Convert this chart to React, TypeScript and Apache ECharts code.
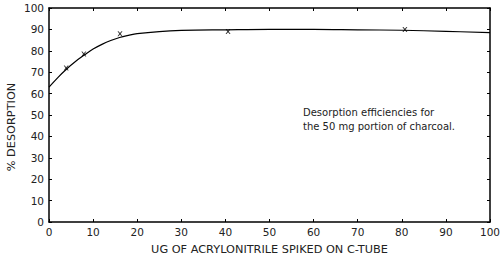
import React, { useEffect, useRef } from "react";
import * as echarts from "echarts";

const curveX = [0, 2, 4, 6, 8, 10, 12, 14, 16, 18, 20, 25, 30, 40, 50, 60, 70, 80, 90, 100];
const curveY = [63, 67.5, 71.5, 75, 78, 80.8, 83, 84.8, 86.2, 87.2, 88, 89, 89.5, 89.8, 90, 90, 89.8, 89.6, 89.1, 88.5];
const pointX = [3.9, 7.9, 16.1, 40.6, 80.7];
const pointY = [72, 78.5, 88, 89, 90];
const noteLines = ["Desorption efficiencies for", "the 50 mg portion of charcoal."];
const xName = "UG OF ACRYLONITRILE SPIKED ON C-TUBE";
const yName = "% DESORPTION";

const X_SYMBOL = "path://M0,0 L2,0 L5,3.5 L8,0 L10,0 L6.5,5 L10,10 L8,10 L5,6.5 L2,10 L0,10 L3.5,5 Z";

export default function App() {
  const ref = useRef<HTMLDivElement>(null);
  useEffect(() => {
    document.body.style.margin = "0";
    if (!ref.current) return;
    const chart = echarts.init(ref.current, null, { renderer: "svg" });
    const font = "DejaVu Sans";
    const axisLine = { show: true, onZero: false, lineStyle: { color: "#000", width: 1.5 } };
    const tick = { show: true, inside: true, length: 3, lineStyle: { color: "#000", width: 1 } };
    chart.setOption({
      animation: false,
      backgroundColor: "#fff",
      grid: { left: 49, right: 10, top: 8, bottom: 36, outerBoundsMode: "none" },
      xAxis: [
        {
          type: "value", min: 0, max: 100, interval: 10,
          axisLine, axisTick: tick, splitLine: { show: false },
          axisLabel: { color: "#222", fontFamily: font, fontSize: 10.5, margin: 4 },
          name: xName,
          nameLocation: "middle", nameGap: 22,
          nameTextStyle: { color: "#222", fontFamily: font, fontSize: 11.3 },
        },
        {
          type: "value", position: "top", min: 0, max: 100, interval: 10,
          axisLine, axisTick: tick, axisLabel: { show: false }, splitLine: { show: false },
        },
      ],
      yAxis: [
        {
          type: "value", min: 0, max: 100, interval: 10,
          axisLine, axisTick: tick, splitLine: { show: false },
          axisLabel: { color: "#222", fontFamily: font, fontSize: 10.5, margin: 5 },
        },
        {
          type: "value", position: "right", min: 0, max: 100, interval: 10,
          axisLine, axisTick: tick, axisLabel: { show: false }, splitLine: { show: false },
        },
      ],
      series: [
        {
          type: "line",
          data: curveX.map((x, i) => [x, curveY[i]]),
          smooth: 0.4,
          showSymbol: false,
          lineStyle: { color: "#000", width: 1.2 },
        },
        {
          type: "scatter",
          data: pointX.map((x, i) => [x, pointY[i]]),
          symbol: X_SYMBOL,
          symbolSize: 5,
          itemStyle: { color: "#000" },
        },
      ],
      graphic: [
        {
          type: "text",
          x: 11,
          y: 127,
          rotation: Math.PI / 2,
          style: {
            text: yName,
            fill: "#222",
            font: `11.3px "${font}"`,
            align: "center",
            verticalAlign: "middle",
          },
        },
        {
          type: "text",
          left: 303,
          top: 105,
          style: {
            text: noteLines.join("\n"),
            fill: "#222",
            font: `10px "${font}"`,
            lineHeight: 14,
          },
        },
      ],
    });
    return () => chart.dispose();
  }, []);
  return <div ref={ref} style={{ width: 500, height: 258 }} />;
}
